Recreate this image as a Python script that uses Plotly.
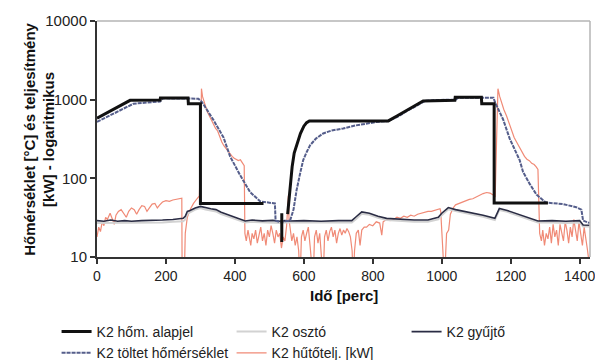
import numpy as np
import plotly.graph_objects as go

# ---------------- data ----------------
x_ticks = [0, 200, 400, 600, 800, 1000, 1200, 1400]
y_ticks = [10, 100, 1000, 10000]
y_tick_labels = ["10", "100", "1000", "10000"]

# K2 hőm. alapjel (setpoint)
sp_t = [0, 96, 183, 184, 264, 265, 300, 300, 483, None, 536, 536, None,
        553, 556, 560, 566, 572, 580, 590, 600, 608, 616, 845, 870, 900, 925,
        946, 1038, 1039, 1115, 1116, 1152, 1152, 1308]
sp_v = [580, 980, 990, 1050, 1050, 890, 890, 48, 48, None, 36, 15.5, None,
        35, 50, 75, 140, 210, 280, 370, 460, 510, 537, 537, 620, 740, 851,
        965, 985, 1070, 1070, 890, 890, 48.6, 48.6]

# K2 töltet hőmérséklet (charge temperature)
ct_t = [0, 106, 183, 192, 294, 304, 338, 367, 386, 415, 444, 473, 500, 516,
        518, 530, 545, 560, 570, 579, 590, 598, 608, 618, 635, 656, 680, 714,
        750, 782, 810, 845, 870, 900, 937, 952, 980, 1040, 1048, 1150, 1154,
        1178, 1197, 1226, 1236, 1255, 1275, 1300, 1308, 1330, 1352, 1390,
        1405, 1410, 1429]
ct_v = [521, 890, 950, 1040, 1030, 940, 550, 330, 190, 110, 67, 51, 49, 48,
        29, 28, 28.5, 29, 40, 71, 120, 170, 215, 263, 320, 372, 405, 430,
        470, 500, 520, 537, 600, 720, 890, 965, 990, 1000, 1060, 1060, 940,
        560, 320, 170, 120, 85, 62, 50, 49, 48, 47, 43, 40, 29, 27]

# K2 gyűjtő and K2 osztó (water temperatures)
gy_t = [0, 20, 40, 60, 80, 100, 130, 160, 190, 220, 250, 256, 262, 270, 285,
        300, 315, 330, 345, 360, 400, 430, 450, 480, 510, 530, 545, 560, 600,
        650, 700, 739, 750, 768, 790, 815, 840, 880, 920, 960, 990, 1000,
        1019, 1040, 1080, 1120, 1154, 1160, 1167, 1190, 1230, 1279, 1320,
        1360, 1400, 1410, 1429]
gy_v = [29, 28.5, 29.5, 28.5, 29, 28.5, 29, 29, 29.5, 30, 31, 33, 38, 39, 42,
        44, 42, 41, 40, 37, 32, 28.7, 29.5, 28.8, 29.2, 28.5, 29, 28.7, 29,
        28.5, 29, 29, 32, 37.4, 36, 33, 31, 30, 29.5, 29.5, 32, 36, 42.5, 40,
        37, 34, 31, 36, 41.3, 39, 34, 28.7, 29, 28.5, 29, 25.5, 25.3]
osz_v = [27, 27, 27.5, 27, 27, 27, 27, 27, 27.5, 28, 28.5, 30, 35, 37, 40,
         42, 40, 39, 38, 35, 30.5, 27.5, 28, 27.5, 27.5, 27, 27.5, 27.5, 27.5,
         27, 27.5, 27.5, 30, 35.5, 34.5, 31.5, 29.5, 28.5, 28, 28, 30, 34,
         40.5, 38.5, 35.5, 32.5, 29.5, 34, 39.5, 37.5, 32.5, 27.5, 27.5, 27,
         27.5, 24.5, 24.5]

# K2 hűtőtelj. [kW] (cooling power)
cp_t = [0, 5, 10, 15, 20, 25, 30, 38, 45, 50, 55, 62, 70, 78, 85, 92, 100,
        108, 115, 122, 130, 138, 145, 152, 160, 168, 175, 182, 190, 200, 210,
        220, 230, 240, 246, 247, 253, 256, 262, 270, 280, 290, 297, 300, 303,
        306, 310, 315, 320, 326, 332, 338, 344, 350, 356, 362, 368, 374, 380,
        386, 392, 398, 404, 410, 416, 420, 424, 427, 429, 433, 438, 442, 446,
        450, 455, 460, 465, 470, 475, 480, 485, 490, 495, 500, 505, 510, 515,
        520, 525, 530, 535, 540, 545, 550, 555, 557, 560, 565, 570, 575, 580,
        585, 589, 593, 598, 603, 608, 613, 618, 622, 627, 631, 636, 641, 646,
        651, 656, 660, 665, 670, 675, 680, 685, 690, 695, 700, 705, 710, 715,
        720, 725, 730, 735, 740, 743, 747, 752, 758, 763, 768, 775, 782, 790,
        800, 810, 820, 826, 830, 840, 850, 860, 870, 880, 890, 900, 910, 920,
        930, 940, 950, 960, 970, 980, 990, 995, 997, 1004, 1008, 1014, 1020,
        1025, 1033, 1040, 1050, 1060, 1070, 1080, 1090, 1100, 1110, 1120,
        1130, 1140, 1148, 1152, 1155, 1159, 1163, 1168, 1174, 1180, 1188,
        1195, 1202, 1210, 1217, 1225, 1232, 1240, 1247, 1254, 1261, 1268,
        1274, 1277, 1279, 1284, 1289, 1293, 1298, 1303, 1308, 1313, 1318,
        1323, 1328, 1333, 1338, 1343, 1348, 1353, 1358, 1363, 1368, 1373,
        1378, 1383, 1388, 1393, 1398, 1403, 1408, 1413, 1418, 1423, 1428]
cp_v = [18, 24, 21, 28, 25, 32, 30, 36, 30, 26, 34, 38, 40, 36, 32, 38, 42,
        40, 35, 40, 45, 44, 38, 42, 47, 48, 42, 46, 50, 52, 51, 53, 54, 55,
        56, 5, 5, 20, 32, 40, 48, 55, 60, 200, 1380, 1100, 950, 800, 700, 620,
        540, 480, 430, 400, 330, 290, 260, 240, 215, 200, 190, 180, 175, 168,
        172, 160, 150, 145, 20, 16, 22, 18, 14, 20, 17, 22, 15, 19, 24, 16,
        20, 14, 22, 18, 25, 20, 15, 22, 18, 20, 13, 18, 16, 25, 60, 30, 22,
        16, 20, 14, 18, 12, 5, 18, 22, 16, 20, 24, 14, 8, 5, 18, 22, 15, 20,
        10, 5, 18, 22, 16, 21, 24, 18, 22, 15, 20, 23, 19, 22, 20, 23, 21,
        18, 12, 5, 12, 20, 22, 14, 22, 24, 24, 26, 25, 28, 27, 19, 28, 30, 29,
        30, 32, 31, 33, 32, 34, 33, 35, 36, 37, 38, 38, 39, 40, 41, 38, 5, 5,
        20, 22, 35, 42, 46, 48, 50, 52, 54, 55, 58, 60, 64, 66, 65, 62, 60,
        58, 300, 1380, 1100, 900, 750, 620, 500, 400, 330, 290, 250, 215, 190,
        175, 168, 155, 150, 140, 132, 130, 20, 16, 22, 14, 20, 17, 24, 15, 26,
        18, 22, 14, 26, 20, 16, 28, 22, 15, 24, 18, 30, 22, 16, 28, 20, 14,
        24, 18, 12, 8, 15]

# dotted highlight boxes: [t0, t1, v0, v1]
boxes = [[264, 499, 41.3, 1493], [1079, 1310, 41.3, 1493]]

names = ["K2 hőm. alapjel", "K2 osztó", "K2 gyűjtő",
         "K2 töltet hőmérséklet", "K2 hűtőtelj. [kW]"]

# ---------------- figure ----------------
FONT = "Liberation Sans, Arial, sans-serif"
fig = go.Figure()

fig.add_trace(go.Scatter(x=cp_t, y=cp_v, mode="lines", name=names[4],
                         line=dict(color="#f08a76", width=1.2),
                         legendrank=5))
fig.add_trace(go.Scatter(x=gy_t, y=osz_v, mode="lines", name=names[1],
                         line=dict(color="#d2d2d2", width=2),
                         legendrank=2))
fig.add_trace(go.Scatter(x=gy_t, y=gy_v, mode="lines", name=names[2],
                         line=dict(color="#2a2c44", width=1.6),
                         legendrank=3))
fig.add_trace(go.Scatter(x=ct_t, y=ct_v, mode="lines", name=names[3],
                         line=dict(color="#555e8b", width=2, dash="4px,1px"),
                         legendrank=4))
fig.add_trace(go.Scatter(x=sp_t, y=sp_v, mode="lines", name=names[0],
                         line=dict(color="#111111", width=3),
                         connectgaps=False, legendrank=1))

shapes = []
for v in [100, 1000]:
    shapes.append(dict(type="line", xref="paper", yref="y", x0=0, x1=1,
                       y0=np.log10(v), y1=np.log10(v),
                       line=dict(color="#555555", width=1.6), layer="below"))
shapes.append(dict(type="line", xref="paper", yref="paper", x0=0, x1=1,
                   y0=1, y1=1, line=dict(color="#b4b4b4", width=1.5)))
shapes.append(dict(type="line", xref="paper", yref="paper", x0=1, x1=1,
                   y0=0, y1=1, line=dict(color="#b4b4b4", width=1.5)))
for b in boxes:
    shapes.append(dict(type="rect", xref="x", yref="y", x0=b[0], x1=b[1],
                       y0=np.log10(b[2]), y1=np.log10(b[3]),
                       line=dict(color="#222222", width=1, dash="dot")))

fig.update_layout(
    width=595, height=360,
    margin=dict(l=97, r=5, t=21, b=103, autoexpand=False),
    paper_bgcolor="white", plot_bgcolor="white",
    font=dict(family=FONT, size=15, color="#222222"),
    shapes=shapes,
    showlegend=True,
    legend=dict(orientation="h", x=-0.082, y=-0.25, xanchor="left",
                yanchor="top", font=dict(size=14, color="#222222"),
                entrywidth=130, entrywidthmode="pixels",
                bgcolor="rgba(0,0,0,0)", traceorder="normal"),
    annotations=[
        dict(text="<b>Hőmérséklet [°C] és teljesítmény<br>[kW] - logaritmikus</b>",
             xref="paper", yref="paper", x=-0.118, y=0.5, textangle=-90,
             xanchor="center", yanchor="middle", showarrow=False,
             font=dict(size=15, color="#111111")),
        dict(text="<b>Idő [perc]</b>", xref="paper", yref="paper",
             x=0.5, y=-0.165, xanchor="center", yanchor="middle",
             showarrow=False, font=dict(size=15, color="#111111")),
    ],
)
fig.update_xaxes(range=[0, 1430], tickvals=x_ticks, ticks="outside",
                 ticklen=5, tickcolor="#333333", tickwidth=1.5,
                 tickfont=dict(size=14), ticklabeloverflow="allow",
                 showline=True, linecolor="#333333", linewidth=2,
                 showgrid=False, zeroline=False)
fig.update_yaxes(type="log", range=[1, 4], tickvals=y_ticks,
                 ticktext=y_tick_labels, ticks="outside", ticklen=5,
                 tickcolor="#333333", tickwidth=1.5, showline=True,
                 linecolor="#333333", linewidth=2, showgrid=False,
                 zeroline=False)

fig.write_html("out.html")
